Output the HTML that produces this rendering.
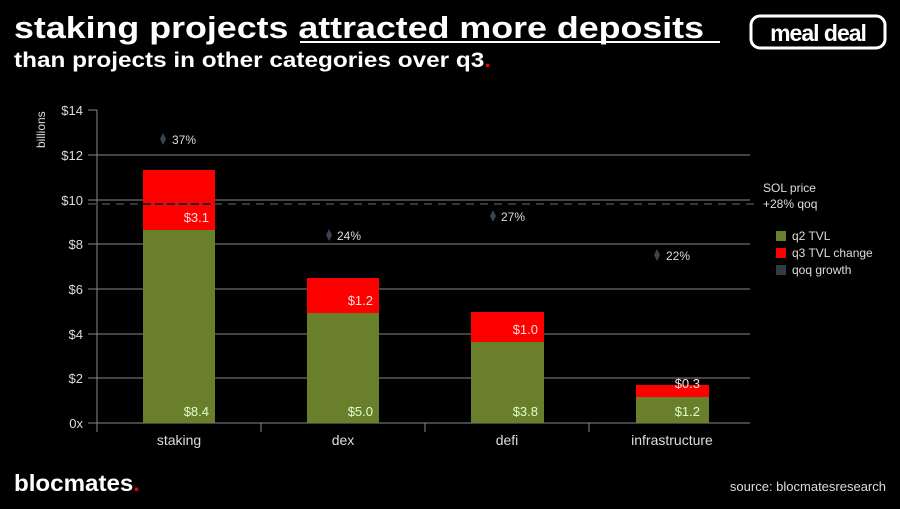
<!DOCTYPE html>
<html><head><style>
body{margin:0;background:#000;width:900px;height:504px;overflow:hidden;font-family:"Liberation Sans",sans-serif;}
</style></head><body>
<svg width="900" height="504" xmlns="http://www.w3.org/2000/svg" font-family="Liberation Sans, sans-serif">
<rect width="900" height="504" fill="#000"/>
<text x="14" y="38" fill="#fff" font-size="31" font-weight="bold" textLength="690" lengthAdjust="spacingAndGlyphs">staking projects attracted more deposits</text>
<line x1="300" y1="42" x2="720" y2="42" stroke="#fff" stroke-width="2"/>
<text x="14" y="67" fill="#fff" font-size="21" font-weight="bold" textLength="477" lengthAdjust="spacingAndGlyphs">than projects in other categories over q3<tspan fill="#e00">.</tspan></text>
<rect x="751" y="16" width="134" height="32" rx="9" fill="#000" stroke="#fff" stroke-width="3"/>
<text x="818" y="41" fill="#fff" font-size="23" font-weight="bold" text-anchor="middle" letter-spacing="-1">meal deal</text>
<g stroke="#888" stroke-width="1">
<line x1="88" y1="110" x2="97" y2="110"/>
<line x1="88" y1="155" x2="750" y2="155"/>
<line x1="88" y1="200" x2="750" y2="200"/>
<line x1="88" y1="244" x2="750" y2="244"/>
<line x1="88" y1="289" x2="750" y2="289"/>
<line x1="88" y1="334" x2="750" y2="334"/>
<line x1="88" y1="378" x2="750" y2="378"/>
<line x1="88" y1="423" x2="750" y2="423"/>
<line x1="97" y1="110" x2="97" y2="432"/>
<line x1="261" y1="423" x2="261" y2="432"/>
<line x1="425" y1="423" x2="425" y2="432"/>
<line x1="589" y1="423" x2="589" y2="432"/>
</g>
<g fill="#ddd" font-size="13" text-anchor="end">
<text x="83" y="115">$14</text><text x="83" y="160">$12</text><text x="83" y="205">$10</text>
<text x="83" y="249">$8</text><text x="83" y="294">$6</text><text x="83" y="339">$4</text>
<text x="83" y="383">$2</text><text x="83" y="428">0x</text>
</g>
<text transform="translate(45,148) rotate(-90)" fill="#ddd" font-size="12">billions</text>
<g fill="#6a7f2c">
<rect x="143" y="230" width="72" height="193"/>
<rect x="307" y="313" width="72" height="110"/>
<rect x="471" y="342" width="73" height="81"/>
<rect x="636" y="397" width="73" height="26"/>
</g>
<g fill="#f00">
<rect x="143" y="170" width="72" height="60"/>
<rect x="307" y="278" width="72" height="35"/>
<rect x="471" y="312" width="73" height="30"/>
<rect x="636" y="385" width="73" height="12"/>
</g>
<line x1="88" y1="204" x2="755" y2="204" stroke="#3a4a5a" stroke-width="1.5" stroke-dasharray="8,6"/>
<line x1="143" y1="204" x2="215" y2="204" stroke="#222" stroke-width="2" stroke-dasharray="8,4"/>
<g font-size="13" text-anchor="end">
<text x="209" y="222" fill="#fdd">$3.1</text><text x="209" y="416" fill="#dfc">$8.4</text>
<text x="373" y="305" fill="#fdd">$1.2</text><text x="373" y="416" fill="#dfc">$5.0</text>
<text x="538" y="334" fill="#fdd">$1.0</text><text x="538" y="416" fill="#dfc">$3.8</text>
<text x="700" y="388" fill="#fdd">$0.3</text><text x="700" y="416" fill="#dfc">$1.2</text>
</g>
<g fill="#ddd" font-size="14" text-anchor="middle">
<text x="179" y="445">staking</text><text x="343" y="445">dex</text>
<text x="507" y="445">defi</text><text x="672" y="445">infrastructure</text>
</g>
<g fill="#3a4450">
<path d="M163 133 l3 6 l-3 6 l-3 -6z"/>
<path d="M329 229 l3 6 l-3 6 l-3 -6z"/>
<path d="M493 210 l3 6 l-3 6 l-3 -6z"/>
<path d="M657 249 l3 6 l-3 6 l-3 -6z"/>
</g>
<g fill="#ddd" font-size="12">
<text x="172" y="144">37%</text><text x="337" y="240">24%</text>
<text x="501" y="221">27%</text><text x="666" y="260">22%</text>
</g>
<text x="763" y="192" fill="#ddd" font-size="12">SOL price</text>
<text x="763" y="208" fill="#ddd" font-size="12">+28% qoq</text>
<rect x="776" y="231" width="10" height="10" fill="#6a7f2c"/>
<rect x="776" y="248" width="10" height="10" fill="#f00"/>
<rect x="776" y="265" width="10" height="10" fill="#333c46"/>
<g fill="#ddd" font-size="12">
<text x="792" y="240">q2 TVL</text><text x="792" y="257">q3 TVL change</text><text x="792" y="274">qoq growth</text>
</g>
<text x="14" y="491" fill="#fff" font-size="23" font-weight="bold" textLength="126" lengthAdjust="spacingAndGlyphs">blocmates<tspan fill="#e00">.</tspan></text>
<text x="886" y="491" fill="#ddd" font-size="13" text-anchor="end">source: blocmatesresearch</text>
</svg>
</body></html>
